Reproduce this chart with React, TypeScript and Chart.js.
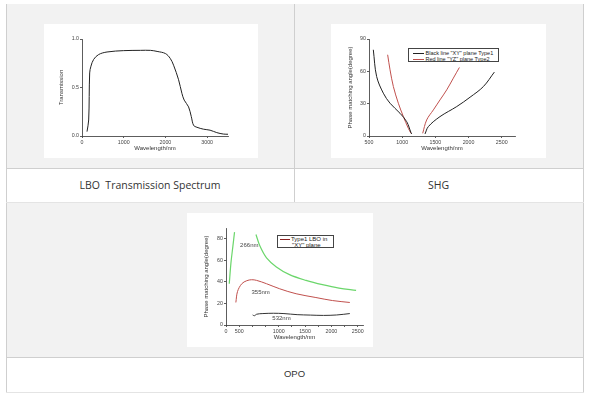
import React, { useEffect, useRef } from "react";
import { Chart, registerables } from "chart.js";

Chart.register(...registerables);

// ---------- DATA ----------
// LBO transmission spectrum
const TRANS_WAVELENGTH = [120, 160, 184, 215, 280, 400, 600, 1000, 1400, 1640, 1800, 2000, 2115, 2195, 2315, 2395, 2450, 2555, 2620, 2675, 2755, 2915, 3070, 3230, 3390, 3510];
const TRANS_VALUE = [0.045, 0.165, 0.65, 0.72, 0.79, 0.84, 0.866, 0.88, 0.883, 0.883, 0.872, 0.85, 0.8, 0.73, 0.58, 0.44, 0.37, 0.3, 0.2, 0.11, 0.09, 0.07, 0.06, 0.035, 0.02, 0.018];
const TRANS_X_TICKS = [0, 1000, 2000, 3000];
const TRANS_Y_TICKS = [0, 0.5, 1.0];

// SHG phase matching angles
const SHG_XY_LEFT_WL = [565, 615, 716, 817, 967, 1068, 1133, 1143];
const SHG_XY_LEFT_ANG = [80, 55.2, 39.7, 30.4, 21.1, 13.3, 3.1, 1.9];
const SHG_XY_RIGHT_WL = [1344, 1394, 1570, 1822, 2023, 2224, 2389];
const SHG_XY_RIGHT_ANG = [1.9, 8.7, 18, 27.3, 36, 45.9, 59.3];
const SHG_YZ_LEFT_WL = [781, 817, 867, 942, 1018, 1093, 1133];
const SHG_YZ_LEFT_ANG = [75.4, 61.4, 45.9, 30.4, 18, 7.1, 2.5];
const SHG_YZ_RIGHT_WL = [1309, 1369, 1470, 1570, 1671, 1771, 1862];
const SHG_YZ_RIGHT_ANG = [2.5, 14.9, 24.2, 33.5, 42.8, 53.7, 63.6];
const SHG_LEGEND = ['Black line "XY" plane Type1', 'Red line "YZ" plane Type2'];
const SHG_X_TICKS = [500, 1000, 1500, 2000, 2500];
const SHG_Y_TICKS = [0, 30, 60, 90];

// OPO phase matching angles
const OPO_266_LEFT_WL = [62, 94, 131, 162];
const OPO_266_LEFT_ANG = [38.3, 57.6, 73.2, 86.2];
const OPO_266_RIGHT_WL = [569, 644, 769, 956, 1206, 1519, 1831, 2144, 2469];
const OPO_266_RIGHT_ANG = [84, 73.2, 62.3, 53.9, 46.7, 41.4, 37.4, 34.2, 32.1];
const OPO_355_WL = [187, 219, 300, 394, 487, 581, 769, 1019, 1331, 1706, 2019, 2350];
const OPO_355_ANG = [20.9, 31.1, 38.3, 41.1, 42, 41.4, 38.3, 33.6, 29, 25.5, 22.7, 20.9];
const OPO_532_WL = [506, 540, 581, 700, 900, 1100, 1350, 1600, 1850, 2100, 2350];
const OPO_532_ANG = [9.3, 8.6, 10, 10.6, 10.9, 10.6, 9.6, 9.2, 8.9, 9.3, 10.6];
const OPO_LABEL_TEXT = ["266nm", "355nm", "532nm"];
const OPO_LABEL_WL = [442, 658, 1053];
const OPO_LABEL_ANG = [73.8, 30.6, 5.9];
const OPO_X_TICK_VALUES = [0, 250, 500, 750, 1000, 1250, 1500, 1750, 2000, 2250, 2500];
const OPO_X_TICK_LABELS = ["0", "500", "", "", "1000", "", "1500", "", "2000", "", "2500"];
const OPO_Y_TICKS = [0, 20, 40, 60, 80];
const OPO_LEGEND = ["Type1 LBO in", '"XY" plane'];

const CAPTIONS = ["LBO  Transmission Spectrum", "SHG", "OPO"];

// ---------- HELPERS ----------
const FONT = "'Liberation Sans', Arial, sans-serif";
const AX = "#333";

function pts(xs: number[], ys: number[]) {
  return xs.map((x, i) => ({ x, y: ys[i] }));
}

function line(data: { x: number; y: number }[], color: string, width = 1) {
  return {
    data,
    borderColor: color,
    borderWidth: width,
    pointRadius: 0,
    tension: 0.35,
    fill: false,
  };
}

function axis(opts: any) {
  const { min, max, tickValues, title, size, isX, labelFn } = opts;
  const a: any = {
    type: "linear",
    min,
    max,
    afterBuildTicks: (s: any) => {
      s.ticks = tickValues.map((v: number) => ({ value: v }));
    },
    ticks: {
      autoSkip: false,
      maxRotation: 0,
      font: { size: 5.3, family: FONT },
      color: "#444",
      padding: 1,
      callback: labelFn || ((v: number) => String(v)),
    },
    grid: { display: true, drawOnChartArea: false, drawTicks: true, tickLength: 2, color: AX, lineWidth: 0.8 },
    border: { display: true, color: AX, width: 0.8 },
    title: { display: true, text: title, font: { size: 6, family: FONT }, color: "#333", padding: 0 },
    afterFit: (s: any) => {
      if (isX) s.height = size;
      else s.width = size;
    },
  };
  return a;
}

function ChartBox(props: { config: any; left: number; top: number; width: number; height: number }) {
  const ref = useRef<HTMLCanvasElement | null>(null);
  useEffect(() => {
    if (!ref.current) return;
    const chart = new Chart(ref.current, props.config);
    return () => chart.destroy();
  }, []);
  return (
    <canvas
      ref={ref}
      width={props.width}
      height={props.height}
      style={{ position: "absolute", left: props.left, top: props.top, width: props.width, height: props.height, background: "#fff" }}
    />
  );
}

const baseOptions = (padding: any, scales: any, plugins: any = {}) => ({
  responsive: false,
  animation: false,
  devicePixelRatio: 1,
  layout: { padding },
  plugins: { legend: { display: false }, tooltip: { enabled: false }, ...plugins },
  scales,
});

const transConfig = {
  type: "line",
  data: { datasets: [line(pts(TRANS_WAVELENGTH, TRANS_VALUE), "#222", 1)] },
  options: baseOptions({ left: 14, right: 30, top: 15, bottom: 6 }, {
    x: axis({ min: 0, max: 3500, tickValues: TRANS_X_TICKS, title: "Wavelength/nm", size: 16, isX: true }),
    y: axis({ min: 0, max: 1, tickValues: TRANS_Y_TICKS, title: "Transmission", size: 24, isX: false, labelFn: (v: number) => v.toFixed(1) }),
  }),
};

const shgConfig = {
  type: "line",
  data: {
    datasets: [
      line(pts(SHG_XY_LEFT_WL, SHG_XY_LEFT_ANG), "#222"),
      line(pts(SHG_XY_RIGHT_WL, SHG_XY_RIGHT_ANG), "#222"),
      line(pts(SHG_YZ_LEFT_WL, SHG_YZ_LEFT_ANG), "#c0504d"),
      line(pts(SHG_YZ_RIGHT_WL, SHG_YZ_RIGHT_ANG), "#c0504d"),
    ],
  },
  options: baseOptions({ left: 16, right: 31, top: 15, bottom: 6 }, {
    x: axis({ min: 500, max: 2700, tickValues: SHG_X_TICKS, title: "Wavelength/nm", size: 16, isX: true }),
    y: axis({ min: 0, max: 90, tickValues: SHG_Y_TICKS, title: "Phase matching angle(degree)", size: 22, isX: false }),
  }),
};

const opoLabelPlugin = {
  id: "opoLabels",
  afterDatasetsDraw(chart: any) {
    const { ctx, scales } = chart;
    ctx.save();
    ctx.font = `6px ${FONT}`;
    ctx.fillStyle = "#444";
    ctx.textAlign = "center";
    ctx.textBaseline = "middle";
    OPO_LABEL_TEXT.forEach((t, i) => {
      ctx.fillText(t, scales.x.getPixelForValue(OPO_LABEL_WL[i]), scales.y.getPixelForValue(OPO_LABEL_ANG[i]));
    });
    ctx.restore();
  },
};

const opoConfig = {
  type: "line",
  data: {
    datasets: [
      line(pts(OPO_266_LEFT_WL, OPO_266_LEFT_ANG), "#6bd66b", 1.2),
      line(pts(OPO_266_RIGHT_WL, OPO_266_RIGHT_ANG), "#6bd66b", 1.2),
      line(pts(OPO_355_WL, OPO_355_ANG), "#c0504d", 1),
      line(pts(OPO_532_WL, OPO_532_ANG), "#333", 1),
    ],
  },
  options: baseOptions({ left: 16, right: 10, top: 15, bottom: 6 }, {
    x: axis({
      min: 0,
      max: 2600,
      tickValues: OPO_X_TICK_VALUES,
      title: "Wavelength/nm",
      size: 16,
      isX: true,
      labelFn: (v: number) => {
        const i = OPO_X_TICK_VALUES.indexOf(v);
        return i >= 0 ? OPO_X_TICK_LABELS[i] : "";
      },
    }),
    y: axis({ min: 0, max: 90, tickValues: OPO_Y_TICKS, title: "Phase matching angle(degree)", size: 23, isX: false }),
  }),
  plugins: [opoLabelPlugin],
};

// ---------- LAYOUT ----------
const GRAY = "#f2f2f2";
const LINE = "#cfcfcf";

function Rect(p: { l: number; t: number; w: number; h: number; bg: string }) {
  return <div style={{ position: "absolute", left: p.l, top: p.t, width: p.w, height: p.h, background: p.bg }} />;
}

const legendText: React.CSSProperties = {
  position: "absolute",
  fontFamily: FONT,
  fontSize: 5.5,
  color: "#222",
  whiteSpace: "pre",
  lineHeight: "6px",
};

const captionStyle: React.CSSProperties = {
  position: "absolute",
  textAlign: "center",
  fontFamily: "'Open Sans', sans-serif",
  fontSize: 10.5,
  color: "#333",
  whiteSpace: "pre",
  lineHeight: "14px",
};

export default function App() {
  return (
    <div style={{ position: "fixed", left: 0, top: 0, width: 600, height: 400, background: "#fff", overflow: "hidden" }}>
      <Rect l={6} t={4} w={577} h={164} bg={GRAY} />
      <Rect l={6} t={202} w={577} h={155} bg={GRAY} />
      {/* lines */}
      <Rect l={6} t={4} w={1} h={388} bg={LINE} />
      <Rect l={583} t={4} w={1} h={388} bg={LINE} />
      <Rect l={294} t={4} w={1} h={198} bg={LINE} />
      <Rect l={6} t={168} w={578} h={1} bg={LINE} />
      <Rect l={6} t={202} w={578} h={1} bg="#e4e4e4" />
      <Rect l={6} t={357} w={578} h={1} bg={LINE} />
      <Rect l={6} t={392} w={578} h={1} bg="#e4e4e4" />

      <ChartBox config={transConfig} left={44} top={24} width={214} height={134} />
      <ChartBox config={shgConfig} left={331} top={24} width={215} height={134} />
      <ChartBox config={opoConfig} left={187} top={213} width={186} height={134} />

      {/* SHG legend */}
      <div style={{ position: "absolute", left: 407.5, top: 48, width: 91, height: 13.5, border: "0.7px solid #444", boxSizing: "border-box", background: "#fff" }} />
      <div style={{ position: "absolute", left: 412.5, top: 52.5, width: 11.5, height: 1, background: "#222" }} />
      <div style={{ position: "absolute", left: 412.5, top: 58.5, width: 11.5, height: 1, background: "#c0504d" }} />
      <div style={{ ...legendText, left: 425.5, top: 49.5 }}>{SHG_LEGEND[0]}</div>
      <div style={{ ...legendText, left: 425.5, top: 55.5 }}>{SHG_LEGEND[1]}</div>

      {/* OPO legend */}
      <div style={{ position: "absolute", left: 277, top: 235, width: 56.5, height: 13, border: "0.7px solid #444", boxSizing: "border-box", background: "#fff" }} />
      <div style={{ position: "absolute", left: 279.5, top: 239, width: 10, height: 1, background: "#8b2222" }} />
      <div style={{ ...legendText, fontSize: 6, left: 291, top: 236 }}>{OPO_LEGEND[0]}</div>
      <div style={{ ...legendText, fontSize: 6, left: 292, top: 242 }}>{OPO_LEGEND[1]}</div>

      {/* captions */}
      <div style={{ ...captionStyle, left: 6, width: 288, top: 178 }}>{CAPTIONS[0]}</div>
      <div style={{ ...captionStyle, left: 294, width: 289, top: 178 }}>{CAPTIONS[1]}</div>
      <div style={{ ...captionStyle, left: 6, width: 577, top: 367, fontFamily: FONT, fontSize: 9.5 }}>{CAPTIONS[2]}</div>
    </div>
  );
}
